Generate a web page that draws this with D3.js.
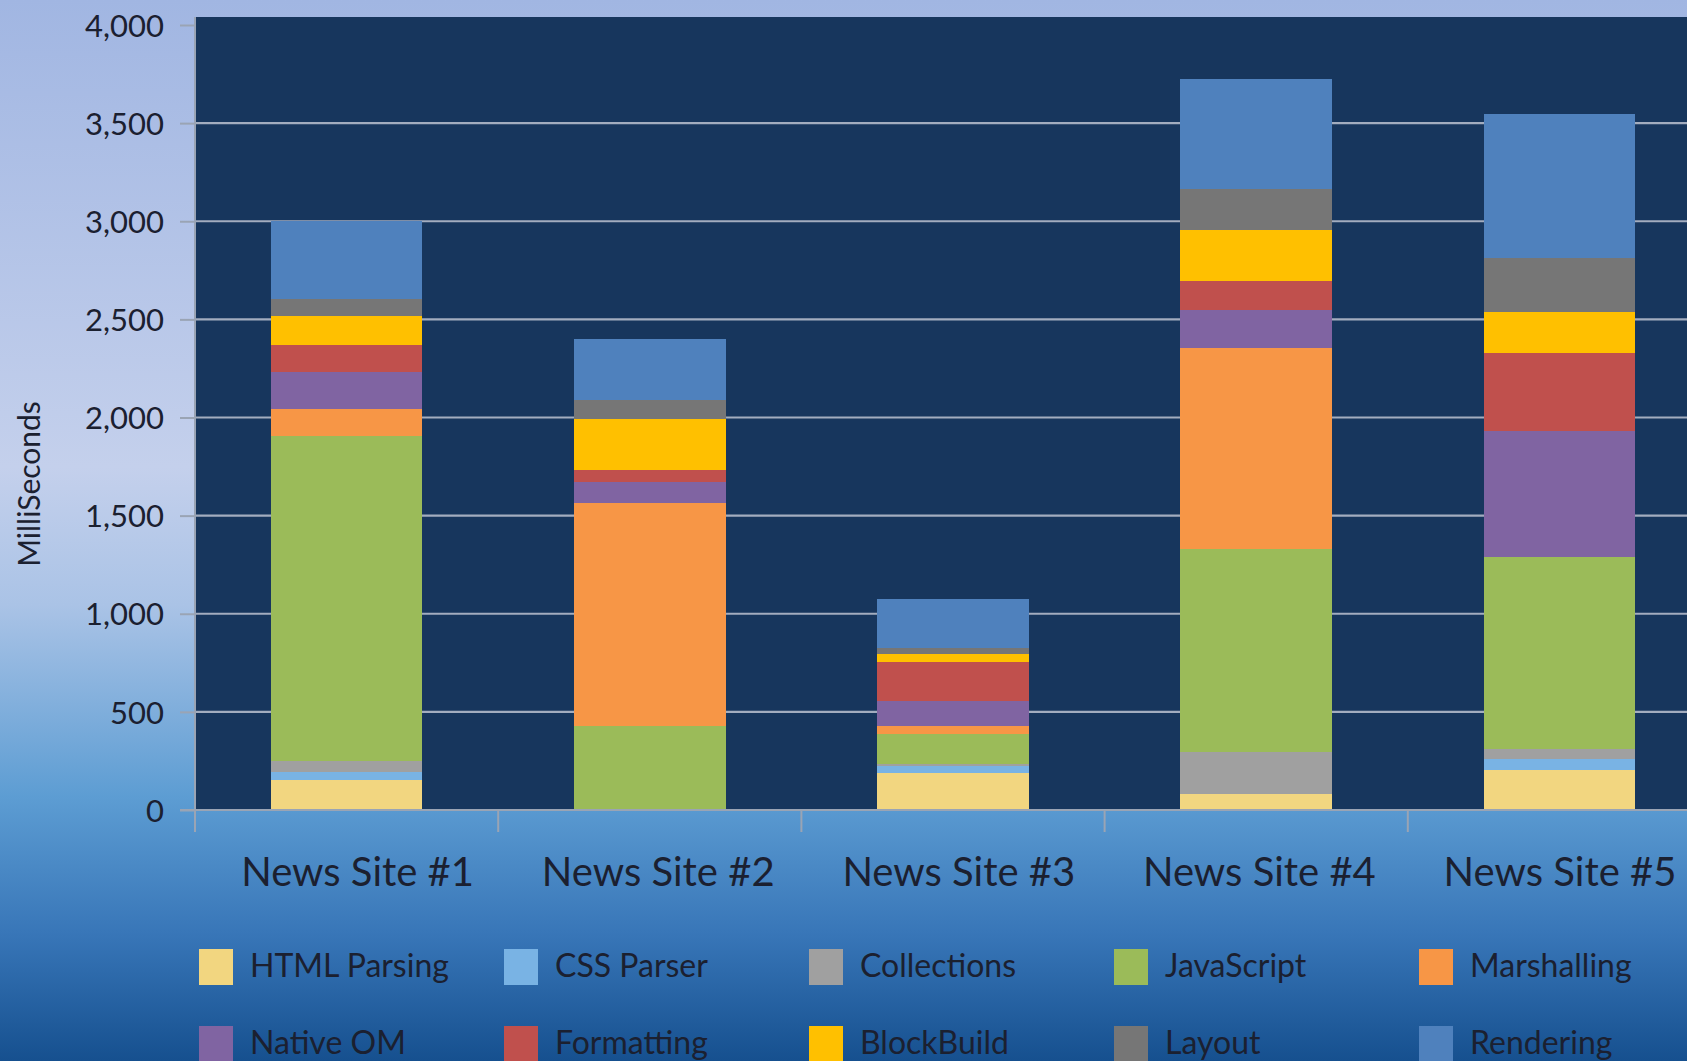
<!DOCTYPE html>
<html>
<head>
<meta charset="utf-8">
<script src="https://cdn.jsdelivr.net/npm/d3@7"></script>
<style>
  html, body { margin: 0; padding: 0; }
  body { width: 1687px; height: 1061px; overflow: hidden; }
  svg { display: block; font-family: Lato, "Open Sans", sans-serif; }
</style>
</head>
<body>
<svg id="chart" width="1687" height="1061"></svg>
<script>
  const SITES = ["News Site #1", "News Site #2", "News Site #3", "News Site #4", "News Site #5"];
  const PHASES = ["HTML Parsing", "CSS Parser", "Collections", "JavaScript", "Marshalling",
    "Native OM", "Formatting", "BlockBuild", "Layout", "Rendering"];
  const PHASE_COLORS = ["#f2d680", "#79b3e4", "#a0a0a0", "#9bbb59", "#f79646",
    "#8064a2", "#c0504d", "#ffc000", "#767676", "#4f81bd"];

  // milliseconds per phase, one array per site (bottom to top)
  const SITE1 = [155, 37, 59, 1653, 141, 186, 137, 147, 91, 394];
  const SITE2 = [0, 0, 0, 427, 1139, 107, 60, 260, 97, 311];
  const SITE3 = [190, 34, 10, 153, 40, 127, 202, 41, 30, 246];
  const SITE4 = [82, 0, 212, 1037, 1024, 191, 152, 257, 207, 563];
  const SITE5 = [204, 56, 51, 977, 0, 641, 401, 206, 279, 732];

  const Y_TICKS = [0, 500, 1000, 1500, 2000, 2500, 3000, 3500, 4000];

  (function () {
    const svg = d3.select("#chart");
    const W = 1687, H = 1061;
    const FONT = "Lato, 'Open Sans', sans-serif";
    const INK = "#1b2030";
    const AXIS = "#9aa4b4";

    // background gradient
    const defs = svg.append("defs");
    const bg = defs.append("linearGradient").attr("id", "bg").attr("x1", 0).attr("y1", 0).attr("x2", 0).attr("y2", 1);
    [[0, "#a1b6e2"], [0.44, "#c4d0ec"], [0.57, "#aac3e6"], [0.75, "#5d9dd3"], [0.88, "#3876b8"], [1, "#16508f"]]
      .forEach(([o, c]) => bg.append("stop").attr("offset", o).attr("stop-color", c));
    svg.append("rect").attr("width", W).attr("height", H).attr("fill", "url(#bg)");

    const plotLeft = 195, plotTop = 17, plotBottom = 810;
    const step = 303.2;

    const x = d3.scaleBand().domain(SITES).range([plotLeft, plotLeft + step * SITES.length]).padding(0);
    const y = d3.scaleLinear().domain([0, 4000]).range([plotBottom, 25]);

    // plot panel
    svg.append("rect")
      .attr("x", plotLeft).attr("y", plotTop)
      .attr("width", W - plotLeft).attr("height", plotBottom - plotTop)
      .attr("fill", "#17365d");

    // gridlines
    svg.append("g")
      .selectAll("line")
      .data(Y_TICKS.filter(d => d > 0 && d < 4000))
      .join("line")
      .attr("x1", plotLeft).attr("x2", W)
      .attr("y1", d => y(d)).attr("y2", d => y(d))
      .attr("stroke", "#a3adbf").attr("stroke-width", 2.2);

    // stacked bars
    const rows = SITES.map((s, i) => {
      const vals = [SITE1, SITE2, SITE3, SITE4, SITE5][i];
      const row = { site: s };
      PHASES.forEach((p, j) => row[p] = vals[j]);
      return row;
    });
    const stacked = d3.stack().keys(PHASES)(rows);
    const bw = x.bandwidth() * 0.5;

    svg.append("g")
      .attr("shape-rendering", "crispEdges")
      .selectAll("g")
      .data(stacked)
      .join("g")
      .attr("fill", (d, i) => PHASE_COLORS[i])
      .selectAll("rect")
      .data(d => d)
      .join("rect")
      .attr("x", d => x(d.data.site) + x.bandwidth() * 0.25)
      .attr("width", bw)
      .attr("y", d => y(d[1]))
      .attr("height", d => Math.max(0, y(d[0]) - y(d[1])));

    // y axis
    const yAxis = svg.append("g").attr("transform", `translate(${plotLeft},0)`)
      .call(d3.axisLeft(y).tickValues(Y_TICKS).tickFormat(d3.format(",")).tickSize(15).tickPadding(16));
    yAxis.attr("font-family", FONT);
    yAxis.select(".domain").attr("stroke", AXIS).attr("stroke-width", 2)
      .attr("d", `M0,${plotTop}V${plotBottom + 22}`);
    yAxis.selectAll(".tick line").attr("stroke", AXIS).attr("stroke-width", 2);
    yAxis.selectAll(".tick text")
      .attr("fill", INK)
      .style("font-size", "31px")
      .attr("dy", "0.36em");

    // x axis
    const xAxis = svg.append("g").attr("transform", `translate(0,${plotBottom})`)
      .call(d3.axisBottom(x).tickSize(0).tickPadding(0));
    xAxis.attr("font-family", FONT);
    xAxis.select(".domain").attr("stroke", AXIS).attr("stroke-width", 2)
      .attr("d", `M${plotLeft - 15},0H${W}`);
    xAxis.selectAll(".tick text")
      .attr("fill", INK)
      .style("font-size", "40px")
      .attr("x", (d, i) => 11 - 2.6 * i)
      .attr("y", 76)
      .attr("dy", 0);
    xAxis.append("g")
      .selectAll("line")
      .data(SITES)
      .join("line")
      .attr("x1", d => x(d)).attr("x2", d => x(d))
      .attr("y1", 0).attr("y2", 22)
      .attr("stroke", AXIS).attr("stroke-width", 2);

    // y title
    svg.append("text")
      .attr("transform", "translate(40,484) rotate(-90)")
      .attr("text-anchor", "middle")
      .attr("fill", INK)
      .style("font-size", "30px")
      .text("MilliSeconds");

    // legend
    const item = svg.append("g")
      .selectAll("g")
      .data(PHASES)
      .join("g")
      .attr("transform", (d, i) => `translate(${199 + (i % 5) * 305},${949 + Math.floor(i / 5) * 77})`);
    item.append("rect")
      .attr("width", 34).attr("height", 36)
      .attr("fill", (d, i) => PHASE_COLORS[i]);
    item.append("text")
      .attr("x", 51).attr("y", 28)
      .attr("fill", INK)
      .style("font-size", "32px")
      .text(d => d);
  })();
</script>
</body>
</html>
